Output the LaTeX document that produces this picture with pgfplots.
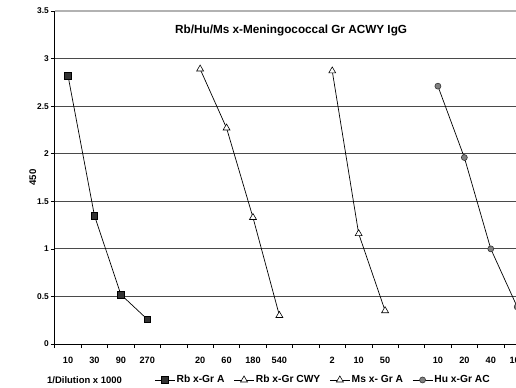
\documentclass[border=0pt]{standalone}
\usepackage{pgfplots}
\pgfplotsset{compat=1.18}
\usepackage{fontspec}
\setmainfont{Liberation Sans}
\definecolor{gridc}{HTML}{4A4A4A}
\definecolor{sqfill}{HTML}{333333}
\definecolor{cifill}{HTML}{808080}
\begin{document}
\begin{tikzpicture}
\path[use as bounding box] (-54.8bp,-44bp) rectangle (461.2bp,344bp);
\clip (-54.8bp,-44bp) rectangle (461.2bp,344bp);
\begin{axis}[
  at={(0,0)}, anchor=south west,
  scale only axis, width=475.6bp, height=333bp,
  xmin=-0.5, xmax=17.5, ymin=0, ymax=3.5,
  axis x line*=bottom, axis y line*=left,
  axis line style={black, line width=0.8bp},
  xtick={-0.5,0.5,...,17.5}, xticklabels={},
  extra x ticks={0,1,...,17},
  extra x tick labels={10,30,90,270,{},20,60,180,540,{},2,10,50,{},10,20,40,100},
  extra x tick style={major tick length=0pt, xticklabel style={font=\bfseries\fontsize{9.2}{10}\selectfont, yshift=-10bp}},
  ytick={0,0.5,...,3},
  extra y ticks={3.5},
  extra y tick style={grid style={gray!60, line width=1.6bp}},
  yticklabel style={font=\bfseries\fontsize{8.4}{9}\selectfont, xshift=1.5bp},
  /pgf/number format/assume math mode=true,
  tick align=outside, major tick length=4bp,
  tick style={black, line width=0.7bp},
  ymajorgrids, grid style={gridc, line width=0.8bp},
  ylabel={450},
  ylabel style={font=\bfseries\fontsize{9.7}{11}\selectfont, at={(axis description cs:-0.046,0.5)}, anchor=center},
  xlabel={1/Dilution x 1000},
  xlabel style={font=\bfseries\fontsize{9.5}{11}\selectfont, at={(axis description cs:0,-0.108)}, anchor=west, inner sep=0pt, xshift=-7.8bp},
  clip=false,
  legend columns=4,
  legend style={at={(axis description cs:0.209,-0.108)}, anchor=west, draw=none, fill=none, inner sep=0pt,
    font=\bfseries\fontsize{10.3}{12}\selectfont,
    /tikz/every even column/.append style={column sep=7.7bp},
    nodes={inner sep=1.5bp}},
  legend image code/.code={\draw[mark repeat=2,mark phase=2,#1] plot coordinates {(0bp,0bp)(10bp,0bp)(20bp,0bp)};},
]
\addplot[black, line width=0.7bp, mark=square*, mark size=3.3bp, mark options={fill=sqfill, draw=black, line width=0.6bp}]
  coordinates {(0,2.82) (1,1.35) (2,0.52) (3,0.26)};
\addlegendentry{Rb x-Gr A}
\addplot[black, line width=0.7bp, mark=triangle*, mark size=4bp, mark options={fill=white, draw=black, line width=0.6bp}]
  coordinates {(5,2.89) (6,2.27) (7,1.33) (8,0.30)};
\addlegendentry{Rb x-Gr CWY}
\addplot[black, line width=0.7bp, mark=triangle*, mark size=4bp, mark options={fill=white, draw=black, line width=0.6bp}]
  coordinates {(10,2.87) (11,1.16) (12,0.35)};
\addlegendentry{Ms x- Gr A}
\addplot[black, line width=0.7bp, mark=*, mark size=3bp, mark options={fill=cifill, draw=sqfill, line width=0.6bp}]
  coordinates {(14,2.71) (15,1.96) (16,1.00) (17,0.39)};
\addlegendentry{Hu x-Gr AC}
\node[font=\bfseries\fontsize{11.8}{13}\selectfont, anchor=west, inner sep=0pt] at (axis cs:4.05,3.29) {Rb/Hu/Ms x-Meningococcal Gr ACWY IgG};
\end{axis}
\end{tikzpicture}
\end{document}
